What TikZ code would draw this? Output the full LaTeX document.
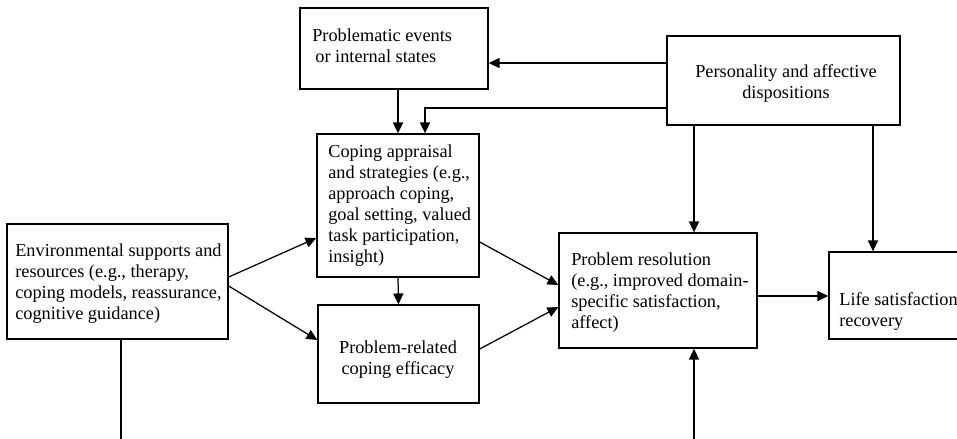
\documentclass[tikz,border=0pt]{standalone}
\usepackage{fontspec}
\setmainfont{Liberation Serif}
\usetikzlibrary{arrows.meta}
\begin{document}
\begin{tikzpicture}[x=0.645pt,y=-0.645pt,
 box/.style={draw, line width=0.9pt, inner sep=0pt},
 sz/.style 2 args={minimum width=#1*0.645pt, minimum height=#2*0.645pt},
 txt/.style={font=\fontsize{11.8}{13.6}\selectfont, align=left, inner sep=0pt, anchor=north west},
 ctxt/.style={txt, align=center, anchor=north},
 arr/.style={line width=0.8pt, -{Triangle[length=7pt,width=6.5pt]}},
 ln/.style={line width=0.8pt}]
\useasboundingbox (0,0) rectangle (957,438);
\fill[white] (0,0) rectangle (957,438);
\clip (0,0) rectangle (957,438);
\def\sa{14.8}
% boxes
\node[box, sz={188}{81}]  (pe) at (394,48.5) {};
\node[box, sz={233}{89}]  (pd) at (783.5,80.5) {};
\node[box, sz={162}{143}] (ce) at (398,205.5) {};
\node[box, sz={221}{115}] (en) at (117.5,281.5) {};
\node[box, sz={161}{98}]  (ef) at (398.5,354) {};
\node[box, sz={198}{115}] (pr) at (658,290.5) {};
\node[box, sz={171}{87}]  (ls) at (914.5,295.5) {};
% texts
\node[txt]  (pet) at (312,{41-\sa}) {\strut Problematic events\\\hspace{2pt}or internal states};
\node[ctxt] (pdt) at (786,{77-\sa}) {\strut Personality and affective\\dispositions};
\node[txt]  (cet) at (328,{157-\sa}) {\strut Coping appraisal\\and strategies (e.g.,\\approach coping,\\goal setting, valued\\task participation,\\insight)};
\node[txt]  (ent) at (15,{256-\sa}) {\strut Environmental supports and\\resources (e.g., therapy,\\coping models, reassurance,\\cognitive guidance)};
\node[ctxt] (eft) at (398,{353-\sa}) {\strut Problem-related\\coping efficacy};
\node[txt]  (prt) at (571,{265-\sa}) {\strut Problem resolution\\(e.g., improved domain-\\specific satisfaction,\\affect)};
\node[txt]  (lst) at (839,{305-\sa}) {\strut Life satisfaction\\recovery};
% helper coordinates
\coordinate (h1) at (0,63);
\coordinate (h2) at (425,108);
\coordinate (v1) at (694,0);
\coordinate (v2) at (873,0);
\coordinate (b1) at (121,442);
\coordinate (b2) at (694,442);
% connectors
\draw[arr] (pd.west |- h1) -- (pe.east |- h1);
\draw[arr] (pd.west |- h2) -| (ce.north -| h2);
\draw[arr] (pe.south -| ce.north) -- (ce.north);
\draw[arr] (ce.south) -- (ef.north);
\draw[arr] (en.east |- 0,277) -- (ce.west |- 0,238);
\draw[arr] (en.east |- 0,286) -- (ef.west |- 0,340);
\draw[arr] (ce.east |- 0,242) -- (pr.west |- 0,285);
\draw[arr] (ef.east |- 0,349) -- (pr.west |- 0,307);
\draw[arr] (pd.south -| v1) -- (pr.north -| v1);
\draw[arr] (pd.south -| v2) -- (ls.north -| v2);
\draw[arr] (pr.east |- 0,296) -- (ls.west |- 0,296);
\draw[arr] (b2) -- (pr.south -| b2);
\draw[ln] (en.south -| b1) -- (b1);
\end{tikzpicture}
\end{document}
